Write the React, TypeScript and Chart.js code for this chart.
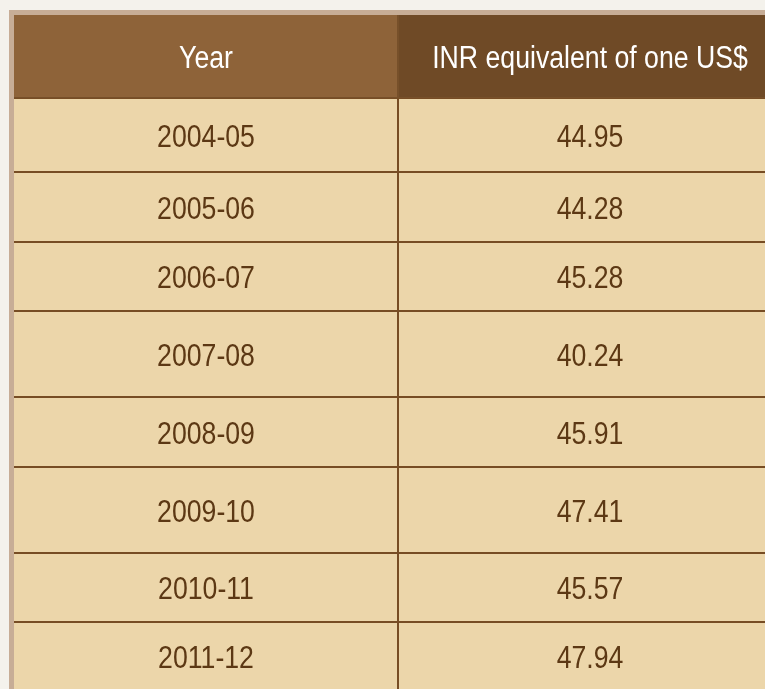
import { useEffect, useRef } from "react";
import { Chart, registerables } from "chart.js";

Chart.register(...registerables);

// ---- data ----
const COLUMNS = ["Year", "INR equivalent of one US$"];
const YEARS = ["2004-05", "2005-06", "2006-07", "2007-08", "2008-09", "2009-10", "2010-11", "2011-12"];
const INR_PER_USD = [44.95, 44.28, 45.28, 40.24, 45.91, 47.41, 45.57, 47.94];

// ---- layout (row heights: header first, then one per year) ----
const ROW_HEIGHTS = [83, 74, 70, 69, 86, 70, 86, 69, 69];

// ---- styles ----
const PAGE_BG = "#f4f2ec";
const FRAME = "#c7ad96";
const HEADER_FILLS = ["#8e6339", "#6f4a26"];
const HEADER_LINE = "#77502a";
const CELL_FILL = "#ecd6aa";
const GRID_LINE = "#774d24";
const TEXT_DARK = "#5c3814";
const FONT_FAMILY = '"Liberation Sans", Arial, sans-serif';
const FONT_SIZE = 31;
const NARROW = 0.86;

const CANVAS_W = 790;
const CANVAS_H = 700;
const LEFT = 14;
const TOP = 15;
const TABLE_W = 768;

export default function App() {
  const ref = useRef<HTMLCanvasElement>(null);

  useEffect(() => {
    const canvas = ref.current;
    if (!canvas) return;

    const bounds: [number, number][] = [];
    let acc = 0;
    for (const h of ROW_HEIGHTS) {
      bounds.push([acc, acc + h]);
      acc += h;
    }
    const total = acc;
    const half = 1;

    const datasets = bounds.map(([a, b], i) => ({
      label: i === 0 ? "header" : YEARS[i - 1],
      data: COLUMNS.map(() => [a, b]),
      backgroundColor: i === 0 ? HEADER_FILLS : CELL_FILL,
      borderColor: i === 0 ? HEADER_LINE : GRID_LINE,
      borderWidth: (ctx: any) => ({
        top: i === 0 ? 0 : half,
        bottom: half,
        left: ctx.dataIndex === 0 ? 0 : half,
        right: ctx.dataIndex === 0 ? half : 0,
      }),
      borderSkipped: false,
      grouped: false,
      barPercentage: 1,
      categoryPercentage: 1,
      inflateAmount: 0,
    }));

    const framePlugin = {
      id: "frame",
      beforeDraw(chart: any) {
        const { ctx, chartArea } = chart;
        ctx.save();
        ctx.fillStyle = PAGE_BG;
        ctx.fillRect(0, 0, chart.width, chart.height);
        ctx.fillStyle = FRAME;
        ctx.fillRect(chartArea.left - 5, chartArea.top - 5, chart.width, chart.height);
        ctx.restore();
      },
    };

    const textPlugin = {
      id: "cellText",
      afterDatasetsDraw(chart: any) {
        const { ctx } = chart;
        chart.data.datasets.forEach((_ds: any, i: number) => {
          const meta = chart.getDatasetMeta(i);
          meta.data.forEach((bar: any, j: number) => {
            const cx = bar.x;
            const cy = (bar.y + bar.base) / 2;
            let text: string;
            let color: string;
            if (i === 0) {
              text = COLUMNS[j];
              color = "#ffffff";
            } else {
              text = j === 0 ? YEARS[i - 1] : INR_PER_USD[i - 1].toFixed(2);
              color = TEXT_DARK;
            }
            ctx.save();
            ctx.translate(cx, cy + 3);
            ctx.scale(NARROW, 1);
            ctx.textAlign = "center";
            ctx.textBaseline = "middle";
            ctx.fillStyle = color;
            ctx.font = `${FONT_SIZE}px ${FONT_FAMILY}`;
            ctx.fillText(text, 0, 0);
            ctx.restore();
          });
        });
      },
    };

    const chart = new Chart(canvas, {
      type: "bar",
      data: { labels: COLUMNS, datasets: datasets as any },
      options: {
        responsive: false,
        animation: false,
        devicePixelRatio: 1,
        events: [],
        layout: {
          padding: {
            left: LEFT,
            top: TOP,
            right: CANVAS_W - LEFT - TABLE_W,
            bottom: CANVAS_H - TOP - total,
          },
        },
        plugins: {
          legend: { display: false },
          tooltip: { enabled: false },
          title: { display: false },
        },
        scales: {
          x: { type: "category", offset: true, display: false, grid: { display: false } },
          y: { type: "linear", reverse: true, min: 0, max: total, display: false, grid: { display: false } },
        },
      },
      plugins: [framePlugin, textPlugin],
    });

    return () => chart.destroy();
  }, []);

  return (
    <div
      style={{
        position: "fixed",
        left: 0,
        top: 0,
        width: 765,
        height: 689,
        overflow: "hidden",
        background: PAGE_BG,
      }}
    >
      <canvas
        ref={ref}
        width={CANVAS_W}
        height={CANVAS_H}
        style={{ display: "block", width: CANVAS_W, height: CANVAS_H }}
      />
    </div>
  );
}
